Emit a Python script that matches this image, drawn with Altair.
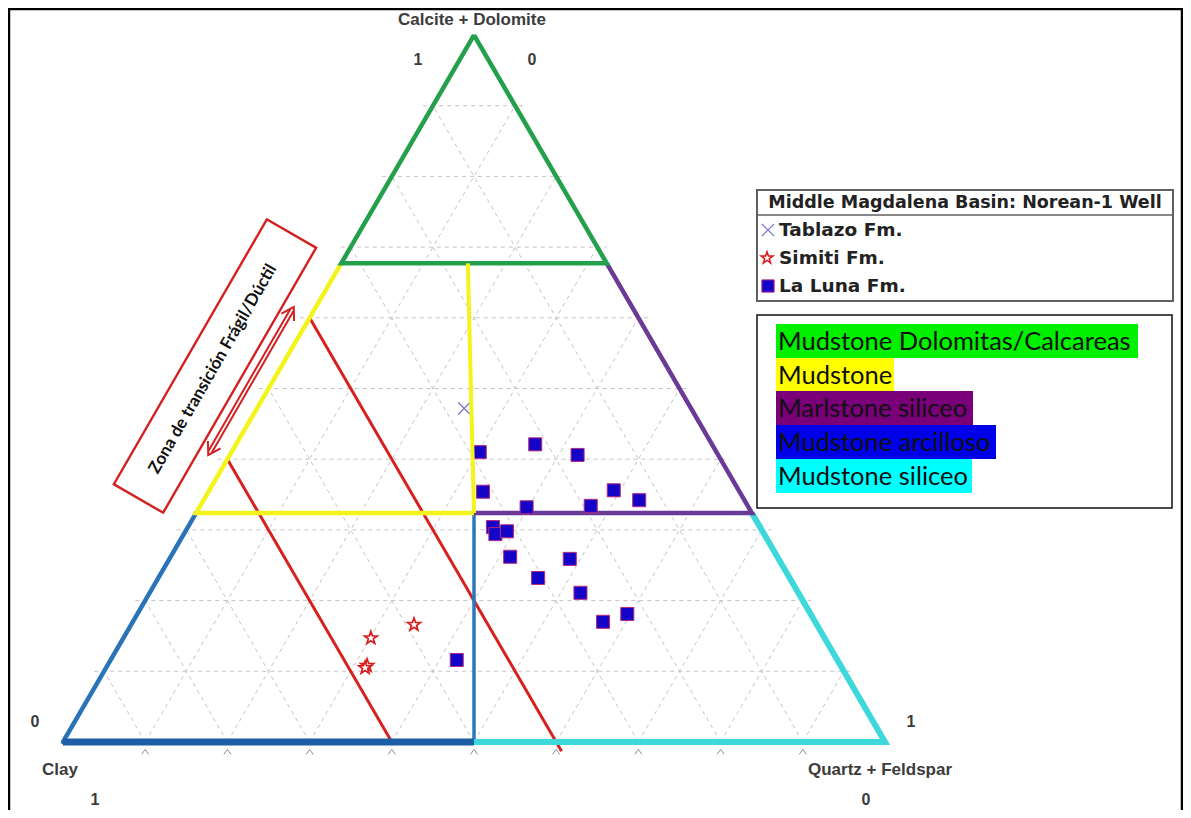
import altair as alt
import pandas as pd

# ------------------------------------------------------------------ data
# fractions: Clay, Quartz + Feldspar, Calcite + Dolomite
tablazo_clay = [0.276]
tablazo_qf = [0.252]
tablazo_cd = [0.472]

simiti_clay = [0.552, 0.490, 0.576, 0.580]
simiti_qf = [0.301, 0.344, 0.316, 0.315]
simiti_cd = [0.147, 0.166, 0.108, 0.105]

laluna_clay = [0.288, 0.215, 0.171, 0.312, 0.152, 0.128, 0.270, 0.191, 0.325,
               0.327, 0.311, 0.325, 0.254, 0.306, 0.265, 0.258, 0.223, 0.463]
laluna_qf = [0.302, 0.364, 0.423, 0.334, 0.492, 0.530, 0.398, 0.475, 0.371,
             0.379, 0.391, 0.413, 0.487, 0.462, 0.524, 0.572, 0.596, 0.421]
laluna_cd = [0.410, 0.421, 0.406, 0.354, 0.356, 0.342, 0.332, 0.334, 0.304,
             0.294, 0.298, 0.262, 0.259, 0.232, 0.211, 0.170, 0.181, 0.116]

# facies boundaries (fractions)
cd_upper = 0.677
cd_lower = 0.324
mudstone_divider_qf_top = 0.154
red_clay_levels = [0.4, 0.6]
grid_levels = [0.1, 0.2, 0.3, 0.4, 0.5, 0.6, 0.7, 0.8, 0.9]

formation_names = ["Tablazo Fm.", "Simiti Fm.", "La Luna Fm."]
legend_title = "Middle Magdalena Basin: Norean-1 Well"
facies_names = ["Mudstone Dolomitas/Calcareas", "Mudstone", "Marlstone siliceo",
                "Mudstone arcilloso", "Mudstone siliceo"]
facies_colors = ["#00f000", "#ffff00", "#7a007a", "#0000e8", "#00ffff"]
axis_titles = ["Calcite + Dolomite", "Clay", "Quartz + Feldspar"]
annotation = "Zona de transición Frágil/Dúctil"

# ------------------------------------------------------------------ helpers
XS = alt.Scale(domain=[-0.0669, 1.3625], nice=False, zero=False)
YS = alt.Scale(domain=[-0.0962, 1.0382], nice=False, zero=False)
dummy = pd.DataFrame({"d": [0]})


def cart(qf, cd):
    return qf + cd / 2.0, cd


def xy_enc():
    return dict(x=alt.X("x:Q", scale=XS, axis=None), y=alt.Y("y:Q", scale=YS, axis=None))


def poly(points, color, width, cap="butt"):
    xs, ys = zip(*[cart(q, c) for q, c in points])
    df = pd.DataFrame({"x": xs, "y": ys, "o": list(range(len(points)))})
    return alt.Chart(df).mark_line(color=color, strokeWidth=width, strokeCap=cap,
                                   strokeJoin="miter").encode(order="o:Q", **xy_enc())


def points_df(qf, cd):
    xs, ys = zip(*[cart(q, c) for q, c in zip(qf, cd)])
    return pd.DataFrame({"x": xs, "y": ys})


def txt(s, x, y, size, font="Liberation Sans", weight="bold", color="#3c3c3c",
        align="center", angle=None):
    kw = dict(text=s, fontSize=size, font=font, fontWeight=weight, color=color,
              align=align, baseline="middle")
    if angle is not None:
        kw["angle"] = angle
    return alt.Chart(dummy).mark_text(**kw).encode(x=alt.value(x), y=alt.value(y))


def box(x1, y1, x2, y2, fill="white", stroke=None, sw=1.0, fill_opacity=1.0):
    kw = dict(fill=fill, fillOpacity=fill_opacity)
    if stroke is not None:
        kw.update(stroke=stroke, strokeWidth=sw)
    return alt.Chart(dummy).mark_rect(**kw).encode(
        x=alt.value(x1), x2=alt.value(x2), y=alt.value(y1), y2=alt.value(y2))


STAR = ("M0,-1L0.235,-0.324L0.951,-0.309L0.380,0.124L0.588,0.809L0,0.4"
        "L-0.588,0.809L-0.380,0.124L-0.951,-0.309L-0.235,-0.324Z")
XMARK = "M-1,-1L1,1M-1,1L1,-1"
CARET = "M-1,0.7L0,-0.7L1,0.7"
RBOX = "M-1,-0.186L1,-0.186L1,0.186L-1,0.186Z"
ARROW = ("M-0.97,-0.022L0.97,-0.022M-0.97,0.022L0.97,0.022"
         "M0.86,-0.085L1,0L0.86,0.085M-0.86,-0.085L-1,0L-0.86,0.085")

layers = []

# outer frame
layers.append(box(1, 1, 1174, 830, fill="white", stroke="black", sw=2.5, fill_opacity=0))

# ------------------------------------------------------------------ grid
ext = 0.012
rows = []
for g in grid_levels:
    # constant Calcite+Dolomite (horizontal)
    rows.append((g / 2 - ext, g, 1 - g / 2 + ext, g))
    # constant Quartz+Feldspar
    x1, y1 = cart(g, 0)
    x2, y2 = cart(g, 1 - g)
    rows.append((x1, y1, x2, y2))
    # constant Clay
    x1, y1 = cart(1 - g, 0)
    x2, y2 = cart(0, 1 - g)
    rows.append((x1, y1, x2, y2))
grid_df = pd.DataFrame(rows, columns=["x", "y", "x2", "y2"])
layers.append(alt.Chart(grid_df).mark_rule(color="#c4c4c4", strokeWidth=1,
                                           strokeDash=[4, 4]).encode(
    x2="x2:Q", y2="y2:Q", **xy_enc()))

# bottom tick carets
caret_df = pd.DataFrame({"x": grid_levels, "y": [-0.014] * len(grid_levels)})
layers.append(alt.Chart(caret_df).mark_point(shape=CARET, filled=False, color="#8c8c8c",
                                             size=50, strokeWidth=1, opacity=1).encode(**xy_enc()))

# thin triangle outline
layers.append(poly([(0, 0), (1, 0), (0, 1), (0, 0)], "#8a8a8a", 1.2))

# red clay-constant lines
for lv in red_clay_levels:
    pts = [(0, 1 - lv), (1 - lv, 0)]
    if lv == 0.4:
        pts = [(0, 1 - lv), (1 - lv + 0.013, -0.013)]
    layers.append(poly(pts, "#d82020", 3))

# facies boundaries
mid_q = 0.5 - cd_lower / 2
layers.append(poly([(mid_q, cd_lower), (0.5, 0)], "#2a78ba", 3.5))
layers.append(poly([(0, cd_lower), (0, 0)], "#2a73b8", 4.5, cap="round"))
layers.append(poly([(0, 0), (0.5, 0)], "#1c5fa6", 7))
layers.append(poly([(0.5, 0), (1, 0), (1 - cd_lower, cd_lower)], "#3dd8da", 6))
layers.append(poly([(1 - cd_upper, cd_upper), (1 - cd_lower, cd_lower), (mid_q, cd_lower)],
                   "#6a3a96", 4.5))
layers.append(poly([(0, cd_upper), (0, cd_lower), (mid_q, cd_lower)], "#f4f41c", 4.5))
layers.append(poly([(0, 1), (0, cd_upper), (1 - cd_upper, cd_upper), (0, 1)], "#22a04b", 4.5))

# ------------------------------------------------------------------ samples
layers.append(alt.Chart(points_df(laluna_qf, laluna_cd)).mark_point(
    shape="square", filled=True, fill="#1404c8", stroke="#b8287c", strokeWidth=1,
    size=170, opacity=1).encode(**xy_enc()))
layers.append(alt.Chart(points_df(simiti_qf, simiti_cd)).mark_point(
    shape=STAR, filled=True, fill="#ffffff", stroke="#d81e1e", strokeWidth=1.7,
    size=180, opacity=1).encode(**xy_enc()))
layers.append(alt.Chart(points_df(tablazo_qf, tablazo_cd)).mark_point(
    shape=XMARK, filled=False, color="#7a7ad6", strokeWidth=1.3,
    size=150, opacity=1).encode(**xy_enc()))

# Mudstone divider drawn last
layers.append(poly([(mudstone_divider_qf_top, cd_upper), (mid_q, cd_lower)], "#f4f41c", 4))

# ------------------------------------------------------------------ axis labels
layers.append(txt(axis_titles[0], 464, 12, 17))
layers.append(txt("1", 410, 52, 16))
layers.append(txt("0", 524, 52, 16))
layers.append(txt("0", 27, 714, 16))
layers.append(txt(axis_titles[1], 52, 762, 17))
layers.append(txt("1", 87, 792, 16))
layers.append(txt("1", 903, 714, 16))
layers.append(txt(axis_titles[2], 872, 762, 17))
layers.append(txt("0", 858, 792, 16))

# ------------------------------------------------------------------ legend 1
layers.append(box(749, 182, 1165, 293, fill="white", stroke="#606060", sw=2))
layers.append(alt.Chart(dummy).mark_rule(color="#606060", strokeWidth=1.5).encode(
    x=alt.value(749), x2=alt.value(1165), y=alt.value(207)))
layers.append(txt(legend_title, 957, 195, 17.5, font="DejaVu Sans", color="#222222"))
layers.append(alt.Chart(dummy).mark_point(shape=XMARK, filled=False, color="#7a7ad6",
                                          strokeWidth=1.3, size=150, opacity=1).encode(
    x=alt.value(760), y=alt.value(222)))
layers.append(alt.Chart(dummy).mark_point(shape=STAR, filled=True, fill="#ffffff",
                                          stroke="#d81e1e", strokeWidth=1.6, size=150,
                                          opacity=1).encode(x=alt.value(759), y=alt.value(250)))
layers.append(alt.Chart(dummy).mark_point(shape="square", filled=True, fill="#1404c8",
                                          stroke="#b8287c", strokeWidth=1, size=150,
                                          opacity=1).encode(x=alt.value(760), y=alt.value(278)))
for name, yy in zip(formation_names, [222, 250, 278]):
    layers.append(txt(name, 771, yy, 18.5, font="DejaVu Sans", color="#222222", align="left"))

# ------------------------------------------------------------------ legend 2
layers.append(box(749, 307, 1164, 500, fill="white", stroke="#111111", sw=1.5))
row_top = [316, 350, 383, 417, 451]
row_bot = [350, 383, 417, 451, 485]
row_right = [1130, 886, 965, 988, 964]
for name, col, t, b, r in zip(facies_names, facies_colors, row_top, row_bot, row_right):
    layers.append(box(768, t, r, b, fill=col))
    layers.append(txt(name, 770, (t + b) / 2 + 1, 25.5, font="Lato", weight="normal",
                      color="#101010", align="left"))

# ------------------------------------------------------------------ annotation
layers.append(alt.Chart(dummy).mark_point(shape=RBOX, filled=False, color="#d42020",
                                          strokeWidth=2.4, size=306 ** 2, angle=300,
                                          opacity=1).encode(x=alt.value(207), y=alt.value(358)))
layers.append(alt.Chart(dummy).mark_point(shape=ARROW, filled=False, color="#d42020",
                                          strokeWidth=2, size=171 ** 2, angle=300,
                                          opacity=1).encode(x=alt.value(243), y=alt.value(373)))
layers.append(txt(annotation, 205, 361, 17, font="Lato", weight="bold",
                  color="#111111", angle=300))

chart = alt.layer(*layers).properties(
    width=1175, height=802,
    autosize=alt.AutoSizeParams(type="none"),
    padding=0,
    background="white",
).configure_view(strokeWidth=0)

chart.save("out.html", embed_options={"renderer": "svg", "actions": False})
